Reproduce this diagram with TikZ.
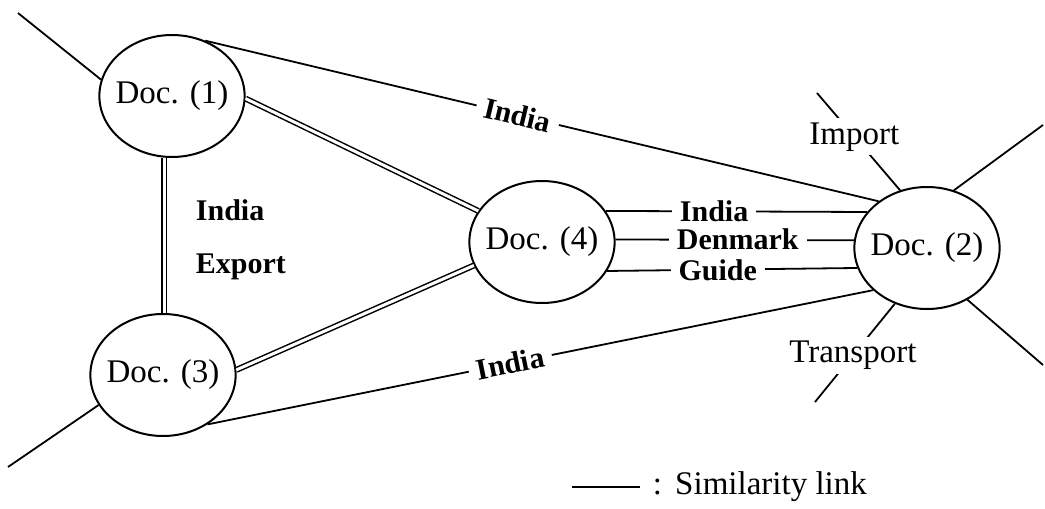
\documentclass[tikz,border=0pt]{standalone}
\usepackage{fontspec}
\setmainfont{Liberation Serif}
\usepackage{tikz}
\usetikzlibrary{shapes.geometric}

\begin{document}
\begin{tikzpicture}[x=0.5pt, y=-0.5pt, line width=0.9pt,
  doc/.style={ellipse, draw, line width=1pt, minimum width=72pt, minimum height=61pt,
    inner xsep=-2.5pt, inner ysep=0pt, font=\fontsize{16.5}{19}\selectfont},
  term/.style={font=\fontsize{15}{18}\selectfont\bfseries},
  word/.style={font=\fontsize{16.5}{19}\selectfont},
  gap/.style={fill=white, inner xsep=4pt, inner ysep=1pt},
  dbl/.style={double, line width=0.75pt, double distance=1.5pt}]
  \useasboundingbox (0,0) rectangle (1045,509);

  \node[doc] (doc1) at (172,96) {Doc. (1)};
  \node[doc] (doc3) at (163,375) {Doc. (3)};
  \node[doc] (doc4) at (542,242) {Doc. (4)};
  \node[doc] (doc2) at (927,248) {Doc. (2)};

  \coordinate (out1) at (18,13);
  \coordinate (out3) at (8,467);
  \coordinate (outImport) at (817,93);
  \coordinate (outTransport) at (815,402);
  \coordinate (outNE) at (1043,125);
  \coordinate (outSE) at (1043,365);

  % links between documents
  \draw (doc1.59) -- node[term, gap, sloped, pos=0.464] {India} (doc2.136);
  \draw (doc3.-48) -- node[term, gap, sloped, pos=0.455] {India} (doc2.218);
  \draw[dbl] (doc1.-2) -- (doc4.154);
  \draw[dbl] (doc3.4) -- (doc4.199);
  \draw[dbl] (doc3.north -| 164,0) -- (doc1.south -| 164,0);

  \draw (doc4.26) -- node[term, gap, anchor=west, pos=0.25] {India} (doc2.149);
  \draw (doc4.2) -- node[term, gap, anchor=west, pos=0.22] {Denmark} (doc2.174);
  \draw (doc4.-24) -- node[term, gap, anchor=west, pos=0.25] {Guide} (doc2.196);

  \node[term, anchor=base west, inner sep=0pt] (shareIndia) at (195,220) {India};
  \node[term, anchor=base west, inner sep=0pt] (shareExport) at (195,273) {Export};

  % free links
  \draw (doc1.167) -- (out1);
  \draw (doc3.205) -- (out3);
  \draw (doc2.115) -- node[word, fill=white, inner sep=2pt, pos=0.55] {Import} (outImport);
  \draw (doc2.240) -- node[word, fill=white, inner sep=2pt, pos=0.525] {Transport} (outTransport);
  \draw (doc2.65) -- (outNE);
  \draw (doc2.-52) -- (outSE);

  % legend
  \coordinate (legstart) at (572,487);
  \node[word, anchor=west, inner xsep=6pt] (legend) at (640,487) {:\hspace{0.4em}Similarity link};
  \draw (legstart) -- (legend.west);
\end{tikzpicture}
\end{document}
